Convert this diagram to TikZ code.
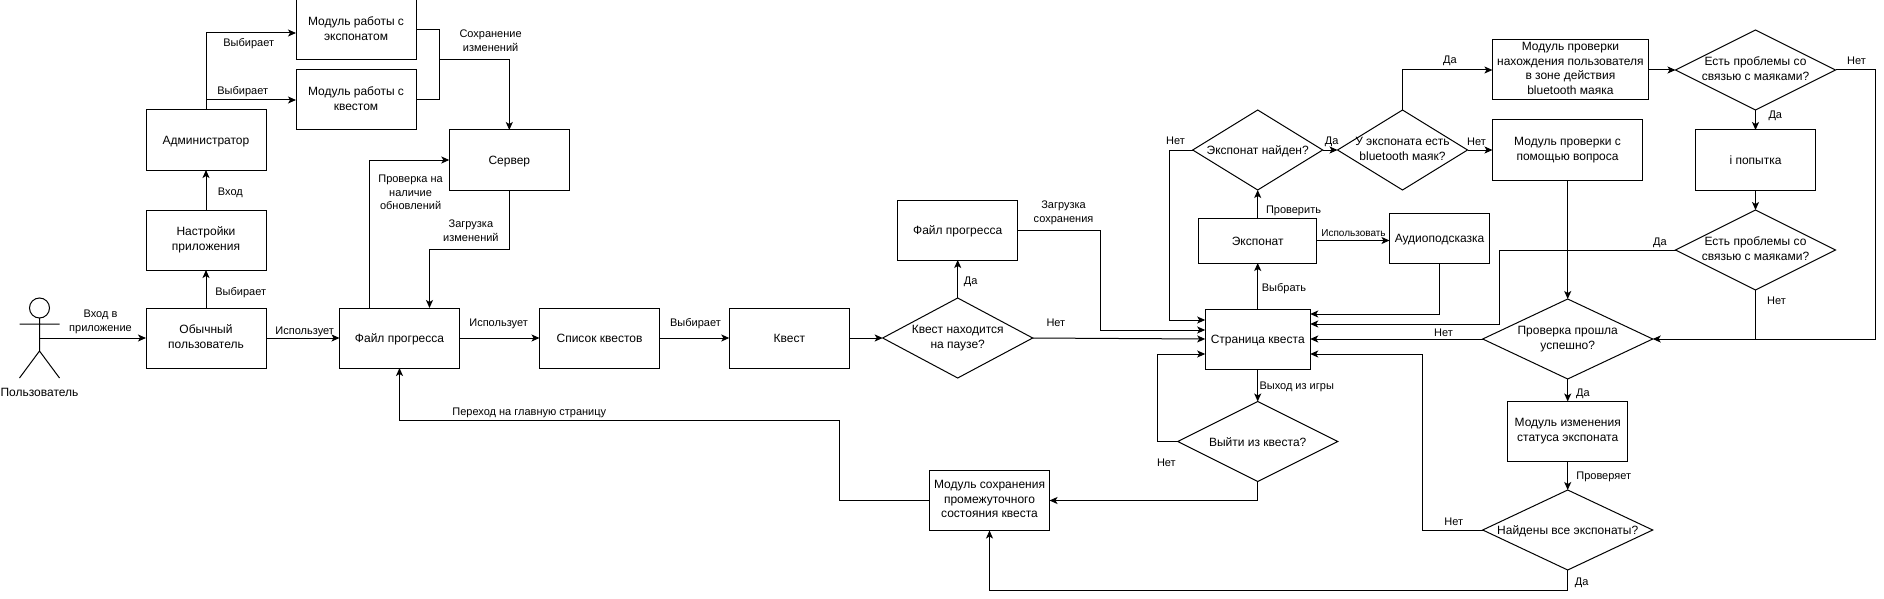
\documentclass[tikz,border=0pt]{standalone}
\usepackage{fontspec}
\setmainfont{Liberation Sans}
\usetikzlibrary{arrows.meta, shapes.geometric, positioning}
\tikzset{>={Stealth[length=8pt,width=7pt,inset=2pt]}}
\tikzset{
    linebox/.style={align=center,execute at begin node={\rule{0pt}{#1}},execute at end node={\rule[-3pt]{0pt}{3pt}}},
    block/.style={draw,rectangle,minimum width=120pt,minimum height=60pt,inner sep=0pt,outer sep=0pt,linebox=12pt,font=\fontsize{12}{15}\selectfont},
    decision/.style={draw,diamond,inner sep=0pt,outer sep=0pt,minimum width=160pt,minimum height=80pt},
    lbl/.style={inner sep=0pt,linebox=11pt,font=\fontsize{11}{14}\selectfont},
    every label/.style={inner sep=0pt,linebox=12pt,font=\fontsize{12}{15}\selectfont}
}
\begin{document}
\begin{tikzpicture}[x=1pt,y=-1pt,line width=1pt]
    \useasboundingbox (0,0) rectangle (1884,599);
    % actor
    \node[draw,circle,minimum size=20pt,inner sep=0pt,outer sep=0pt] (head) at (39.5,308) {};
    \coordinate (armL) at (19.5,324);
    \coordinate (armR) at (59.5,324);
    \coordinate (hip) at (39.5,351);
    \coordinate (footL) at (19.5,378);
    \coordinate (footR) at (59.5,378);
    \coordinate (actorMid) at (39.5,338);
    \node[block,draw=none,minimum width=0pt,minimum height=0pt] (actorName) at (39.5,392) {Пользователь};
    \draw (head.south) -- (hip) (armL) -- (armR) (footL) -- (hip) -- (footR);
    % left part
    \node[block] (user) at (206,338) {Обычный\\пользователь};
    \node[block] (settings) at (206,240) {Настройки\\приложения};
    \node[block] (admin) at (206,140) {Администратор};
    \node[block] (modExhibit) at (356,30) {Модуль работы с\\экспонатом};
    \node[block] (modQuest) at (356,100) {Модуль работы с\\квестом};
    \node[block] (server) at (509.3,160) {Сервер};
    \node[block] (progress) at (399.5,338) {Файл прогресса};
    \node[block] (questList) at (599.5,338) {Список квестов};
    \node[block] (quest) at (789.3,338) {Квест};
    \node[decision,minimum width=150pt,label={center:Квест находится\\на паузе?}] (pause) at (957.7,338) {};
    \node[block] (saveFile) at (957.7,230) {Файл прогресса};
    \node[block,font=\fontsize{12}{14.5}\selectfont] (modSave) at (989.5,500.5) {Модуль сохранения\\промежуточного\\состояния квеста};
    % middle part
    \node[block,minimum width=105pt] (page) at (1257.7,339) {Страница квеста};
    \node[block,minimum width=118pt,minimum height=45pt] (exhibit) at (1257.7,240.5) {Экспонат};
    \node[block,minimum width=100pt,minimum height=50pt] (audio) at (1439.5,238) {Аудиоподсказка};
    \node[decision,minimum width=130pt,label={center:Экспонат найден?}] (found) at (1257.7,150) {};
    \node[decision,minimum width=130pt,label={center:У экспоната есть\\bluetooth маяк?}] (hasBeacon) at (1402.5,150) {};
    \node[decision,label={center:Выйти из квеста?}] (exitQuest) at (1257.7,441.5) {};
    % right part
    \node[block,minimum width=156pt,font=\fontsize{12}{14.5}\selectfont] (modBeacon) at (1570.4,70) {Модуль проверки\\нахождения пользователя\\в зоне действия\\bluetooth маяка};
    \node[block,minimum width=150pt] (modQuestion) at (1567.5,150) {Модуль проверки с\\помощью вопроса};
    \node[decision,label={center:Есть проблемы со\\связью с маяками?}] (linkOne) at (1755.5,70) {};
    \node[block] (attempt) at (1755.5,160) {i попытка};
    \node[decision,label={center:Есть проблемы со\\связью с маяками?}] (linkTwo) at (1755.5,250) {};
    \node[decision,minimum width=170pt,label={center:Проверка прошла\\успешно?}] (checkOk) at (1567.7,339) {};
    \node[block] (modStatus) at (1567.7,431.5) {Модуль изменения\\статуса экспоната};
    \node[decision,minimum width=170pt,label={center:Найдены все экспонаты?}] (allFound) at (1567.7,530) {};
    % bends
    \coordinate (adminUp) at (206,100);
    \coordinate (joinServer) at (439,60);
    \coordinate (serverDrop) at (509.3,249);
    \coordinate (saveBend) at (1100,330);
    \coordinate (foundBend) at (1169.6,150);
    \coordinate (exitBend) at (1157.5,441.5);
    \coordinate (failBend) at (1422.7,354);
    \coordinate (linkTwoBend) at (1499.6,250);
    \coordinate (linkOneBend) at (1875.6,70);
    \coordinate (rightJoin) at (1755.5,339);
    \coordinate (allBend) at (1567.7,590);
    \coordinate (backBend) at (839.7,420);
    \coordinate (exitDrop) at (1257.7,500.5);
    % straight arrows
    \path[->]
        (actorMid) edge (user.west)
        (user) edge (settings)
        (user) edge (progress)
        (settings) edge (admin)
        (progress) edge (questList)
        (questList) edge (quest)
        (quest) edge (pause)
        (pause) edge (saveFile)
        (pause.east) edge (page.west)
        (page) edge (exhibit)
        (page) edge (exitQuest)
        (exhibit) edge (found)
        (exhibit.east) edge ([yshift=-2.5pt]audio.west)
        (found) edge (hasBeacon)
        (hasBeacon) edge (hasBeacon-|modQuestion.west)
        (modBeacon) edge (linkOne)
        (linkOne) edge (attempt)
        (attempt) edge (linkTwo)
        (modQuestion.south-|checkOk.north) edge (checkOk.north)
        (checkOk) edge (modStatus)
        (modStatus) edge (allFound)
        (checkOk.west) edge (page.east)
    ;
    % bent arrows
    \draw[->] (admin.north) |- ([yshift=-3pt]modExhibit.west);
    \draw[->] (adminUp) -- (modQuest.west);
    \draw (admin.north) -- (adminUp);
    \draw[->] (modExhibit.east) -| (joinServer) -| (server.north);
    \draw (modQuest.east) -| (joinServer);
    \draw[->] ([xshift=-30pt]progress.north) |- (server.west);
    \draw[->] (server.south) -- (serverDrop) -| ([xshift=30pt]progress.north);
    \draw[->] (modSave.west) -| (backBend) -| (progress.south);
    \draw[->] (saveFile.east) -| (saveBend) -- ([yshift=9pt]page.west);
    \draw[->] (found.west) -- (foundBend) |- ([yshift=19pt]page.west);
    \draw[->] (exitQuest.west) -- (exitBend) |- ([yshift=-15pt]page.west);
    \draw[->] (exitQuest.south) -- (exitDrop) -- (modSave.east);
    \draw[->] (audio.south) |- ([yshift=25pt]page.east);
    \draw[->] (linkTwo.west) -- (linkTwoBend) |- ([yshift=15pt]page.east);
    \draw[->] (allFound.west) -| (failBend) -- ([yshift=-15pt]page.east);
    \draw[->] (hasBeacon.north) |- (modBeacon.west);
    \draw[->] (linkOne.east) -- (linkOneBend) |- (checkOk.east);
    \draw (linkTwo.south) -- (rightJoin);
    \draw[->] (allFound.south) -- (allBend) -| (modSave.south);
    % edge labels
    \node[lbl] (lblEnter) at (100.5,322) {Вход в\\приложение};
    \node[lbl] (lblPickSettings) at (240.7,291.3) {Выбирает};
    \node[lbl] (lblLogin) at (230.4,191.3) {Вход};
    \node[lbl] (lblPickExhibit) at (248.7,42.3) {Выбирает};
    \node[lbl] (lblPickQuest) at (242.7,91) {Выбирает};
    \node[lbl] (lblSaveEdits) at (490.6,41.8) {Сохранение\\изменений};
    \node[lbl,font=\fontsize{11}{13.5}\selectfont] (lblCheck) at (410.6,194) {Проверка на\\наличие\\обновлений};
    \node[lbl] (lblLoadEdits) at (470.9,232.3) {Загрузка\\изменений};
    \node[lbl] (lblUse) at (304.7,330.3) {Использует};
    \node[lbl] (lblUseList) at (498.6,322.3) {Использует};
    \node[lbl] (lblPickQuestTwo) at (695.5,322.3) {Выбирает};
    \node[lbl] (lblHome) at (529.3,411.3) {Переход на главную страницу};
    \node[lbl] (lblPauseYes) at (970.7,280) {Да};
    \node[lbl] (lblPauseNo) at (1055.9,322.3) {Нет};
    \node[lbl] (lblLoadSave) at (1063.5,213.3) {Загрузка\\сохранения};
    \node[lbl] (lblFoundNo) at (1175.6,140) {Нет};
    \node[lbl] (lblExitNo) at (1166.4,462.3) {Нет};
    \node[lbl] (lblExit) at (1296.7,385.7) {Выход из игры};
    \node[lbl] (lblPick) at (1284,287.3) {Выбрать};
    \node[lbl] (lblInspect) at (1293.5,209.3) {Проверить};
    \node[lbl,font=\fontsize{10}{12}\selectfont] (lblUseAudio) at (1353.5,232) {Использовать};
    \node[lbl] (lblFoundYes) at (1331.6,141) {Да};
    \node[lbl] (lblBeaconYes) at (1450,59.3) {Да};
    \node[lbl] (lblBeaconNo) at (1476.5,141.3) {Нет};
    \node[lbl] (lblLinkOneNo) at (1856.5,61) {Нет};
    \node[lbl] (lblLinkOneYes) at (1775.3,115) {Да};
    \node[lbl] (lblLinkTwoYes) at (1660,241.7) {Да};
    \node[lbl] (lblLinkTwoNo) at (1776.5,300) {Нет};
    \node[lbl] (lblCheckNo) at (1443.5,332) {Нет};
    \node[lbl] (lblCheckYes) at (1583,392) {Да};
    \node[lbl] (lblVerify) at (1603.7,475.3) {Проверяет};
    \node[lbl] (lblAllNo) at (1453.7,521) {Нет};
    \node[lbl] (lblAllYes) at (1581.7,581) {Да};
\end{tikzpicture}
\end{document}
